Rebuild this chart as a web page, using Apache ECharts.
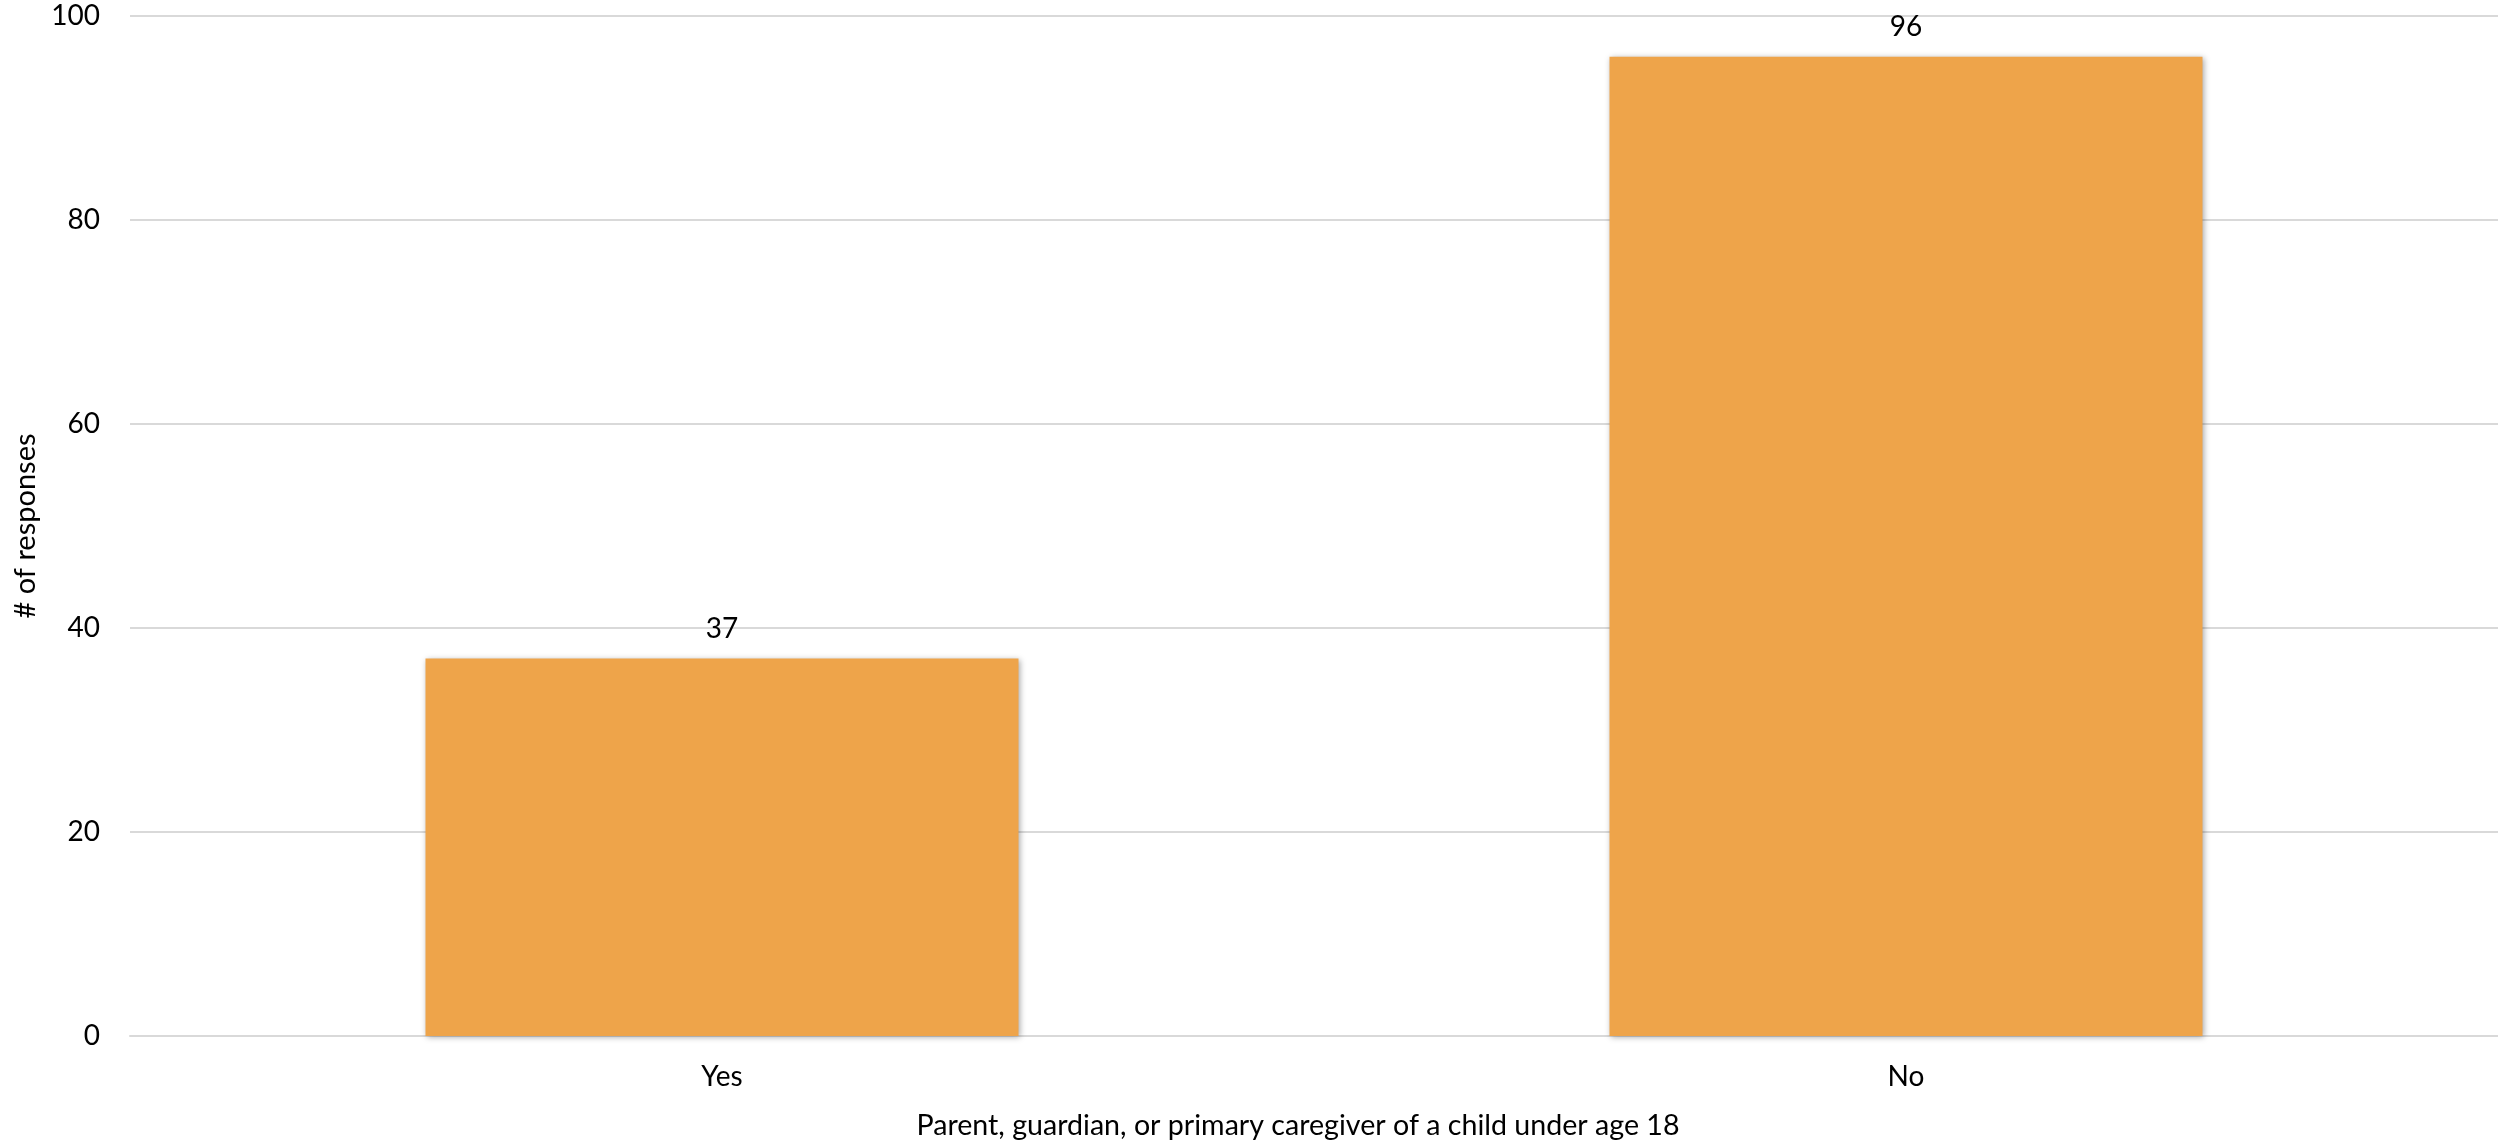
<!DOCTYPE html>
<html><head><meta charset="utf-8">
<style>html,body{margin:0;padding:0;background:#fff}#c{width:2498px;height:1143px}</style>
<script src="https://cdn.jsdelivr.net/npm/echarts@6/dist/echarts.min.js"></script>
</head><body><div id="c"></div>
<script>
const categories = ["Yes", "No"];
const responses = [37, 96];
const yTicks = { min: 0, max: 100, interval: 20 };
const yTitle = "# of responses";
const xTitle = "Parent, guardian, or primary caregiver of a child under age 18";

const FONT = "Lato";
const FS = 28;
const chart = echarts.init(document.getElementById('c'), null, {renderer: 'canvas'});
chart.setOption({
  animation: false,
  backgroundColor: '#ffffff',
  textStyle: { fontFamily: FONT },
  grid: { left: 130, right: 0, top: 16, bottom: 107 },
  xAxis: { type: 'category', data: categories,
    axisLine: { lineStyle: { color: '#d9d9d9', width: 2 } }, axisTick: { show: false },
    axisLabel: { color: '#000', fontSize: FS, margin: 27, fontFamily: FONT } },
  yAxis: { type: 'value', min: yTicks.min, max: yTicks.max, interval: yTicks.interval,
    axisLine: { show: false }, axisTick: { show: false },
    axisLabel: { color: '#000', fontSize: FS, margin: 30, fontFamily: FONT },
    splitLine: { lineStyle: { color: '#d9d9d9', width: 2 } },
    name: yTitle, nameLocation: 'middle', nameGap: 86, nameRotate: 90,
    nameTextStyle: { color: '#000', fontSize: 29, fontFamily: FONT } },
  graphic: [{
    type: 'text', x: 1298, y: 1126,
    style: { text: xTitle, fill: '#000', fontSize: 28.6, fontFamily: FONT, align: 'center', verticalAlign: 'middle' }
  }],
  series: [{
    type: 'bar', data: responses, barWidth: 593,
    itemStyle: { color: '#EEA44A', shadowColor: 'rgba(0,0,0,0.35)', shadowBlur: 6, shadowOffsetX: 1, shadowOffsetY: 1 },
    label: { show: true, position: 'top', distance: 16, color: '#000', fontSize: FS, fontFamily: FONT }
  }]
});
</script></body></html>
